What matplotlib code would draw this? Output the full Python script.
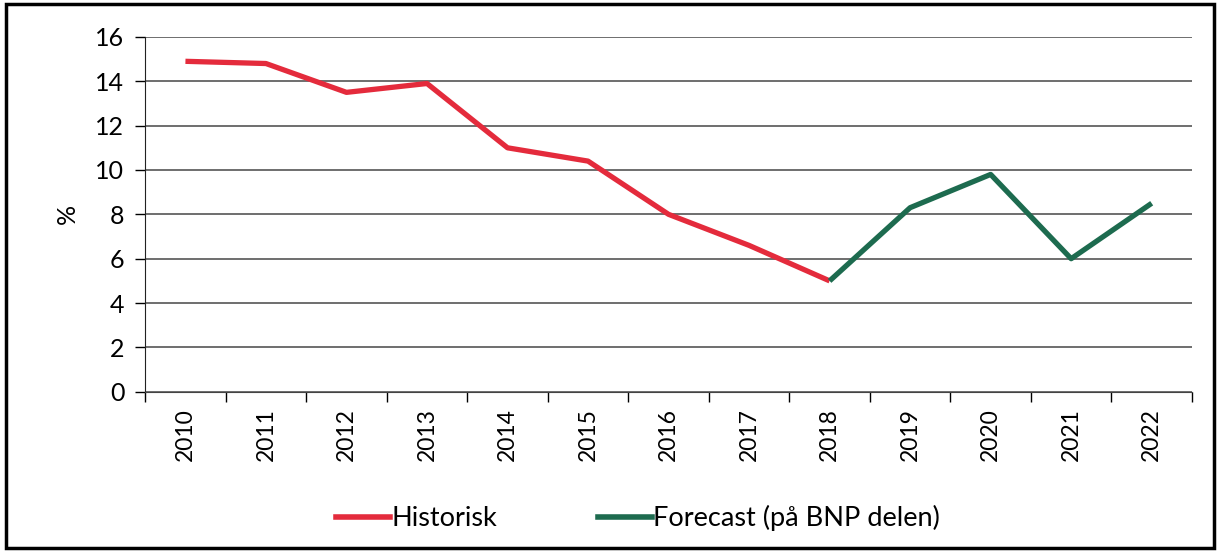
import matplotlib.pyplot as plt
from matplotlib.patches import Rectangle
from matplotlib.lines import Line2D

years = [str(y) for y in range(2010, 2023)]
historisk = [14.9, 14.8, 13.5, 13.9, 11.0, 10.4, 8.0, 6.6, 5.0]
forecast = [5.0, 8.3, 9.8, 6.0, 8.5]

red = "#e42b3c"
green = "#1d6b4f"

plt.rcParams["font.family"] = ["Lato", "DejaVu Sans"]

fig = plt.figure(figsize=(12.2, 5.51), dpi=100)
ax = fig.add_axes([0.119, 0.289, 0.858, 0.644])

x_hist = list(range(len(historisk)))
x_fc = list(range(len(historisk) - 1, len(years)))
ax.plot(x_hist, historisk, color=red, lw=3.8, solid_capstyle="butt")
ax.plot(x_fc, forecast, color=green, lw=3.8, solid_capstyle="butt")

ax.set_xlim(-0.5, len(years) - 0.5)
ax.set_ylim(0, 16)
ax.set_yticks(range(0, 17, 2))
ax.set_xticks(range(len(years)))
ax.set_xticklabels(years, rotation=90, fontsize=16.5)
ax.tick_params(axis="x", length=0, pad=12)
ax.set_xticks([i - 0.5 for i in range(len(years) + 1)], minor=True)
ax.tick_params(axis="x", which="minor", length=7, direction="out", width=1)
ax.tick_params(axis="y", labelsize=18, length=7, width=1, pad=8)
ax.grid(axis="y", color="#555555", lw=1.2)
ax.set_axisbelow(True)
for s in ["top", "right"]:
    ax.spines[s].set_visible(False)
ax.spines["left"].set_color("#222222")
ax.spines["bottom"].set_color("#444444")
ax.set_ylabel("%", fontsize=18, labelpad=12)

handles = [Line2D([], [], color=red, lw=4), Line2D([], [], color=green, lw=4)]
fig.legend(handles, ["Historisk", "Forecast (på BNP delen)"], loc="center",
           bbox_to_anchor=(0.523, 0.06), ncol=2, frameon=False, fontsize=19.5,
           handlelength=2.0, handletextpad=0.05, columnspacing=3.7)

fig.patches.append(Rectangle((0.005, 0.005), 0.99, 0.988, transform=fig.transFigure,
                             fill=False, edgecolor="black", lw=2.5))

fig.savefig("out.png", dpi=100)
